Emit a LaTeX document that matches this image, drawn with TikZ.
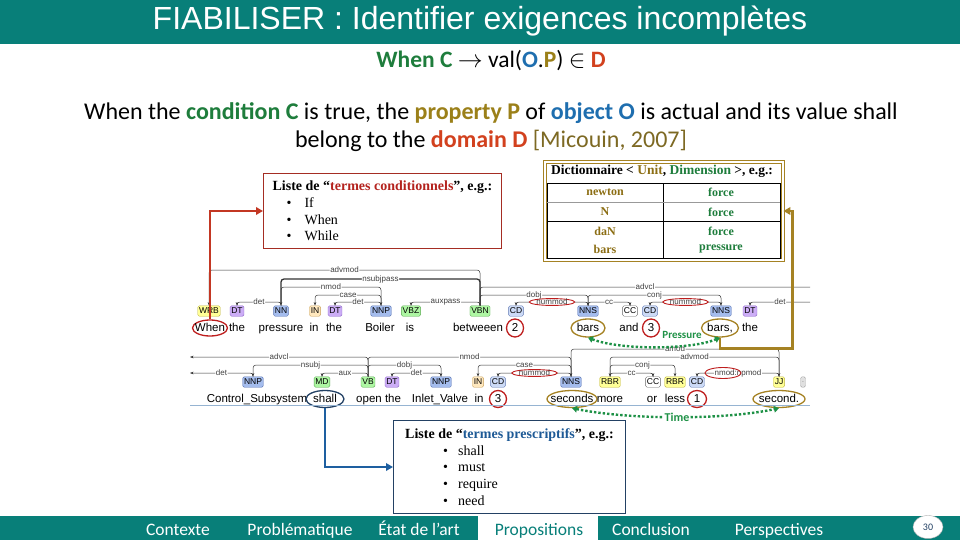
\documentclass[tikz,border=0pt]{standalone}
\usepackage{fontspec}
\setmainfont{Carlito}
\newfontfamily\arialfont{Liberation Sans}
\newfontfamily\timesfont{Liberation Serif}
\usetikzlibrary{arrows.meta,shapes.geometric}

% slide colours
\definecolor{barteal}{RGB}{8,127,121}
\definecolor{condgreen}{RGB}{30,125,60}
\definecolor{objblue}{RGB}{30,110,175}
\definecolor{propolive}{RGB}{155,128,25}
\definecolor{domred}{RGB}{210,65,30}
\definecolor{citebrown}{RGB}{125,105,35}
\definecolor{termred}{RGB}{180,35,30}
\definecolor{termblue}{RGB}{30,90,150}
\definecolor{boxred}{RGB}{165,45,35}
\definecolor{boxblue}{RGB}{35,65,100}
\definecolor{arrowred}{RGB}{195,55,35}
\definecolor{arrowblue}{RGB}{30,95,160}
\definecolor{arrowolive}{RGB}{165,130,35}
\definecolor{simgreen}{RGB}{30,145,70}
\definecolor{ringred}{RGB}{190,30,30}
\definecolor{unitolive}{RGB}{140,110,20}
\definecolor{dimgreen}{RGB}{30,125,60}
% parser tag colours
\definecolor{nounfill}{RGB}{164,188,237}
\definecolor{nounline}{RGB}{95,120,180}
\definecolor{cdfill}{RGB}{204,218,246}
\definecolor{verbfill}{RGB}{173,246,162}
\definecolor{verbline}{RGB}{90,170,80}
\definecolor{detfill}{RGB}{204,173,246}
\definecolor{detline}{RGB}{140,100,200}
\definecolor{advfill}{RGB}{255,255,150}
\definecolor{advline}{RGB}{190,180,60}
\definecolor{prepfill}{RGB}{255,232,190}
\definecolor{prepline}{RGB}{200,160,90}
\definecolor{sepblue}{RGB}{150,180,210}

% dependency arc: [label style]{head}{dependent}{height}{label}
\newcommand{\deplink}[5][]{%
  \draw[dep] (#2.north) -- (#2.north |- 0,#4) -- node[deplbl,#1] {#5} (#3.north |- 0,#4) -- (#3.north);}

\begin{document}
\begin{tikzpicture}[x=1pt, y=-1pt,
  postag/.style={draw, rounded corners=1.5pt, inner xsep=1.3pt, inner ysep=0.8pt, minimum height=10.5pt, font=\arialfont\fontsize{8.5}{9}\selectfont},
  nountag/.style={postag, fill=nounfill, draw=nounline},
  cdtag/.style={postag, fill=cdfill, draw=nounline},
  verbtag/.style={postag, fill=verbfill, draw=verbline},
  dettag/.style={postag, fill=detfill, draw=detline},
  advtag/.style={postag, fill=advfill, draw=advline},
  preptag/.style={postag, fill=prepfill, draw=prepline},
  cctag/.style={postag, fill=white, draw=black!60},
  punctag/.style={postag, fill=black!12, draw=black!35, text=black!40},
  word/.style={inner sep=0.5pt, text height=8.5pt, text depth=2.5pt, font=\arialfont\fontsize{11.5}{12}\selectfont},
  ring/.style={word, ellipse, draw, line width=1.3pt, inner xsep=-30pt, inner ysep=-12pt},
  redring/.style={ring, draw=ringred},
  oliveidring/.style={ring, draw=arrowolive},
  bluering/.style={ring, draw=boxblue},
  dep/.style={draw=black!80, line width=0.5pt, rounded corners=3pt, -{Stealth[length=3.5pt,width=2.6pt]}},
  deplbl/.style={fill=white, inner sep=0.6pt, font=\arialfont\fontsize{8}{8}\selectfont, text=black!75},
  nummodring/.style={ellipse, draw=ringred, line width=0.9pt, inner xsep=0.5pt, inner ysep=-0.5pt},
  bigarrow/.style={line width=2.6pt, -{Triangle[length=7pt,width=7.5pt]}},
  simlink/.style={simgreen, line width=2.4pt, dash pattern=on 2.4pt off 2pt, {Triangle[length=5pt,width=6.5pt]}-{Triangle[length=5pt,width=6.5pt]}},
  listbox/.style={align=left, inner xsep=5pt, inner ysep=3pt, line width=1pt, anchor=north west, font=\timesfont\fontsize{14}{16.8}\selectfont},
  cell/.style={font=\timesfont\bfseries\fontsize{12}{12}\selectfont},
  menuitem/.style={anchor=base, text=white, font=\fontsize{17.5}{19}\selectfont}]

  \useasboundingbox (0,0) rectangle (960,540);
  \fill[white] (0,0) rectangle (960,540);

  % title bar
  \fill[barteal] (0,0) rectangle (960,44);
  \node[anchor=base, text=white, font=\arialfont\fontsize{32}{34}\selectfont] (title) at (480,30) {FIABILISER : Identifier exigences incomplètes};

  % formula and sentence
  \node[anchor=base, font=\fontsize{23.5}{25}\selectfont] (formula) at (491,68) {\textbf{\textcolor{condgreen}{When C}} $\rightarrow$ val(\textbf{\textcolor{objblue}{O}}.\textbf{\textcolor{propolive}{P}}) $\in$ \textbf{\textcolor{domred}{D}}};
  \node[anchor=base, font=\fontsize{24}{27}\selectfont] (defA) at (491,120) {When the \textbf{\textcolor{condgreen}{condition C}} is true, the \textbf{\textcolor{propolive}{property P}} of \textbf{\textcolor{objblue}{object O}} is actual and its value shall};
  \node[anchor=base, font=\fontsize{24}{27}\selectfont] (defB) at (491,148) {belong to the \textbf{\textcolor{domred}{domain D}} \textcolor{citebrown}{[Micouin, 2007]}};

  % term lists
  \node[listbox, draw=boxred, minimum width=238, minimum height=75] (condlist) at (263,173) {%
    \textbf{Liste de “\textcolor{termred}{termes conditionnels}”, e.g.:}\\
    \hspace*{14pt}\textbullet\hspace{13pt}If\\
    \hspace*{14pt}\textbullet\hspace{13pt}When\\
    \hspace*{14pt}\textbullet\hspace{13pt}While};
  \node[listbox, draw=boxblue, minimum width=232, minimum height=93] (presclist) at (393,420) {%
    \textbf{Liste de “\textcolor{termblue}{termes prescriptifs}”, e.g.:}\\
    \hspace*{38pt}\textbullet\hspace{10pt}shall\\
    \hspace*{38pt}\textbullet\hspace{10pt}must\\
    \hspace*{38pt}\textbullet\hspace{10pt}require\\
    \hspace*{38pt}\textbullet\hspace{10pt}need};

  % dictionary
  \node[draw=arrowolive, double, double distance=1.6pt, line width=0.8pt, minimum width=238, minimum height=98, inner sep=0pt] (dict) at (664,211) {};
  \node[font=\timesfont\bfseries\fontsize{13.5}{14}\selectfont] (dicthead) at (662,171) {Dictionnaire < \textcolor{unitolive}{Unit}, \textcolor{dimgreen}{Dimension} >, e.g.:};
  \draw[line width=0.6pt] (547,183) rectangle (780,258) (663,183) -- (663,258) (547,221) -- (780,221);
  \draw[black!40, line width=0.5pt] (547,202) -- (780,202);
  \node[cell, text=unitolive] (unitA) at (605,192) {newton};
  \node[cell, text=dimgreen] (dimA) at (721,192) {force};
  \node[cell, text=unitolive] (unitB) at (605,212) {N};
  \node[cell, text=dimgreen] (dimB) at (721,212) {force};
  \node[cell, text=unitolive] (unitC) at (605,231) {daN};
  \node[cell, text=dimgreen] (dimC) at (721,231) {force};
  \node[cell, text=unitolive] (unitD) at (605,249) {bars};
  \node[cell, text=dimgreen] (dimD) at (721,249) {pressure};

  % parse, first line: tags
  \node[advtag] (wrbA) at (209,311) {WRB};
  \node[dettag] (dtA) at (237,311) {DT};
  \node[nountag] (nnA) at (281,311) {NN};
  \node[preptag] (inA) at (315,311) {IN};
  \node[dettag] (dtB) at (335,311) {DT};
  \node[nountag] (nnpA) at (381,311) {NNP};
  \node[verbtag] (vbzA) at (411,311) {VBZ};
  \node[verbtag] (vbnA) at (480,311) {VBN};
  \node[cdtag] (cdA) at (516,311) {CD};
  \node[nountag] (nnsA) at (588,311) {NNS};
  \node[cctag] (ccA) at (630,311) {CC};
  \node[cdtag] (cdB) at (650,311) {CD};
  \node[nountag] (nnsB) at (721,311) {NNS};
  \node[dettag] (dtC) at (750,311) {DT};
  % first line: words
  \node[redring, minimum width=35, minimum height=16] (wWhen) at (210,328) {When};
  \node[word] (wThe) at (237,328) {the};
  \node[word] (wPressure) at (281,328) {pressure};
  \node[word] (wIn) at (314,328) {in};
  \node[word] (wTheB) at (334,328) {the};
  \node[word] (wBoiler) at (380,328) {Boiler};
  \node[word] (wIs) at (410,328) {is};
  \node[word] (wBetween) at (478,328) {betweeen};
  \node[redring, minimum width=17, minimum height=18] (wTwo) at (515,328) {2};
  \node[oliveidring, minimum width=34, minimum height=18] (wBars) at (588,328) {bars};
  \node[word] (wAnd) at (629,328) {and};
  \node[redring, minimum width=17, minimum height=18] (wThree) at (651,328) {3};
  \node[oliveidring, minimum width=37, minimum height=18] (wBarsB) at (720,328) {bars,};
  \node[word] (wTheC) at (750,328) {the};
  % first line: arcs
  \deplink{vbnA}{wrbA}{270}{advmod}
  \draw[dep, line width=1.3pt] (vbnA.north) -- (vbnA.north |- 0,279) -- node[deplbl] {nsubjpass} (nnA.north |- 0,279) -- (nnA.north);
  \deplink{nnA}{nnpA}{287}{nmod}
  \deplink{nnpA}{inA}{295}{case}
  \deplink{nnpA}{dtB}{302}{det}
  \deplink{nnA}{dtA}{302}{det}
  \deplink{vbnA}{vbzA}{302}{auxpass}
  \deplink{vbnA}{nnsA}{295}{dobj}
  \draw[dep, -] (vbnA.north) -- (vbnA.north |- 0,287) -- node[deplbl] {advcl} (810,287);
  \deplink[nummodring]{nnsA}{cdA}{302}{nummod}
  \deplink{nnsA}{ccA}{302}{cc}
  \deplink{nnsA}{nnsB}{295}{conj}
  \deplink[nummodring]{nnsB}{cdB}{302}{nummod}
  \draw[dep] (810,302) -- node[deplbl] {det} (dtC.north |- 0,302) -- (dtC.north);

  % parse, second line: tags
  \node[nountag] (nnpB) at (253,382) {NNP};
  \node[verbtag] (mdA) at (322,382) {MD};
  \node[verbtag] (vbA) at (368,382) {VB};
  \node[dettag] (dtD) at (392,382) {DT};
  \node[nountag] (nnpC) at (441,382) {NNP};
  \node[preptag] (inB) at (478,382) {IN};
  \node[cdtag] (cdC) at (498,382) {CD};
  \node[nountag] (nnsC) at (571,382) {NNS};
  \node[advtag] (rbrA) at (610,382) {RBR};
  \node[cctag] (ccB) at (653,382) {CC};
  \node[advtag] (rbrB) at (675,382) {RBR};
  \node[cdtag] (cdD) at (697,382) {CD};
  \node[advtag] (jjA) at (779,382) {JJ};
  \node[punctag] (punctA) at (803,382) {.};
  % second line: words
  \node[word] (wControl) at (257,399) {Control\_Subsystem};
  \node[bluering, minimum width=38, minimum height=17] (wShall) at (325,399) {shall};
  \node[word] (wOpen) at (369,399) {open};
  \node[word] (wTheD) at (393,399) {the};
  \node[word] (wValve) at (440,399) {Inlet\_Valve};
  \node[word] (wInB) at (479,399) {in};
  \node[redring, minimum width=17, minimum height=17] (wThreeB) at (498,399) {3};
  \node[oliveidring, minimum width=50, minimum height=17] (wSeconds) at (572,399) {seconds};
  \node[word] (wMore) at (610,399) {more};
  \node[word] (wOr) at (652,399) {or};
  \node[word] (wLess) at (675,399) {less};
  \node[redring, minimum width=19, minimum height=17] (wOne) at (697,399) {1};
  \node[oliveidring, minimum width=52, minimum height=17] (wSecond) at (779,399) {second.};
  % second line: arcs
  \draw[dep] (vbA.north) -- (vbA.north |- 0,357) -- node[deplbl] {advcl} (190,357);
  \draw[dep] (nnpB.north) -- (nnpB.north |- 0,373) -- node[deplbl] {det} (190,373);
  \deplink{vbA}{nnpB}{365}{nsubj}
  \deplink{vbA}{mdA}{373}{aux}
  \deplink{vbA}{nnpC}{365}{dobj}
  \deplink{nnpC}{dtD}{373}{det}
  \deplink{vbA}{nnsC}{357}{nmod}
  \deplink{nnsC}{inB}{365}{case}
  \deplink[nummodring]{nnsC}{cdC}{373}{nummod}
  \deplink{nnsC}{jjA}{349}{amod}
  \deplink{jjA}{rbrA}{357}{advmod}
  \deplink{rbrA}{rbrB}{365}{conj}
  \deplink{rbrA}{ccB}{373}{cc}
  \deplink{jjA}{cdD}{373}{nmod:npmod}
  \node[ellipse, draw=ringred, line width=0.9pt, minimum width=36, minimum height=11, inner sep=-10pt] (npring) at (723,373) {};
  \draw[sepblue, line width=0.8pt] (190,405) -- (810,405);

  % links to the lists
  \draw[bigarrow, arrowred] (wWhen.north) |- (condlist.west);
  \draw[bigarrow, arrowolive] (wBarsB.south) -- ++(0,11) -| ([xshift=9pt]dict.east) -- (dict.east);
  \draw[bigarrow, arrowblue] (wShall.south) |- (presclist.west);

  % same dimension
  \draw[simlink] (wBars.south) .. controls (620,350) and (690,350) .. (wBarsB.south);
  \node[text=simgreen, font=\bfseries\fontsize{11}{12}\selectfont] (pressure) at (682,335) {Pressure};
  \draw[simlink] (wSeconds.south) .. controls (630,420) and (725,420) .. node[fill=white, inner sep=0.5pt, text=simgreen, font=\bfseries\fontsize{12}{12}\selectfont] {Time} (wSecond.south);

  % bottom bar
  \fill[barteal] (0,516) rectangle (960,540);
  \fill[white] (478,516) rectangle (598,540);
  \foreach \mx/\mname/\mtext in {178/menuA/Contexte, 300/menuB/Problématique, 419/menuC/État de l’art, 651/menuE/Conclusion, 779/menuF/Perspectives}
    \node[menuitem] (\mname) at (\mx,535) {\mtext};
  \node[menuitem, text=barteal] (menuD) at (539,535) {Propositions};
  \node[ellipse, fill=white, draw=black!30, minimum width=30, minimum height=23, inner sep=0pt, font=\fontsize{10}{10}\selectfont, text=boxblue] (pagenum) at (928,527) {30};
\end{tikzpicture}
\end{document}
